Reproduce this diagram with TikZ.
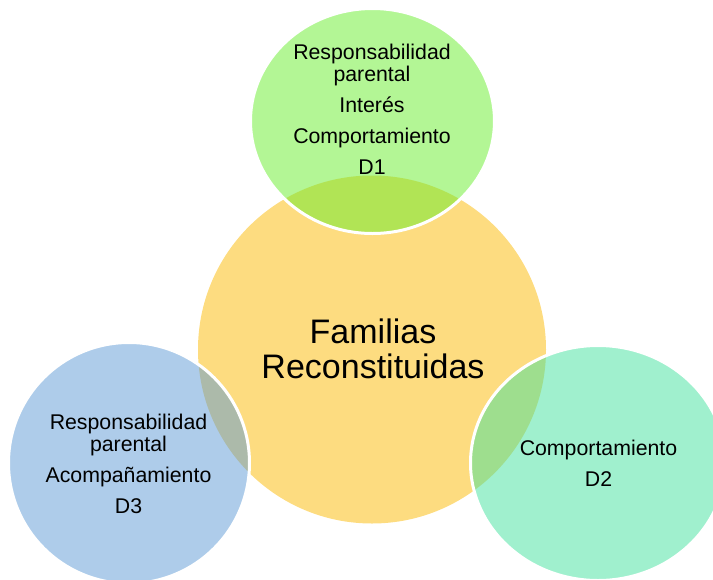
\documentclass[tikz,border=0pt]{standalone}
\usepackage{fontspec}
\setmainfont{Liberation Sans}
\usetikzlibrary{shapes.geometric}
\definecolor{yel}{RGB}{253,220,128}
\definecolor{grn}{RGB}{103,237,43}
\definecolor{blu}{RGB}{93,153,213}
\definecolor{tea}{RGB}{65,225,157}
\tikzset{
  sat/.style={ellipse, draw=white, line width=3pt, fill opacity=0.5, draw opacity=1, inner sep=0pt},
  lbl/.style={font=\fontsize{21.3}{22}\selectfont, align=center, inner sep=0pt, text=black},
  big/.style={font=\fontsize{34}{35}\selectfont, align=center, inner sep=0pt, text=black}
}
\begin{document}
\begin{tikzpicture}[x=1pt,y=-1pt]
\useasboundingbox (0,0) rectangle (713,579);
\node[circle, fill=yel, inner sep=0pt, minimum size=348pt] (core) at (372,349.5) {};
\node[sat, fill=grn, minimum width=244pt, minimum height=225pt] (top) at (372.5,121) {};
\node[sat, fill=blu, minimum width=241pt, minimum height=241pt] (left) at (129,463) {};
\node[sat, fill=tea, minimum width=255pt, minimum height=235pt] (right) at (598,463) {};
\node[big] (tcore) at (373,349) {Familias\\Reconstituidas};
\node[lbl] (ttop) at (372,109.75) {Responsabilidad\\parental\\[9pt]Interés\\[9pt]Comportamiento\\[9pt]D1};
\node[lbl] (tleft) at (128.5,464) {Responsabilidad\\parental\\[9pt]Acompañamiento\\[9pt]D3};
\node[lbl] (tright) at (598.5,463.5) {Comportamiento\\[9pt]D2};
\end{tikzpicture}
\end{document}
